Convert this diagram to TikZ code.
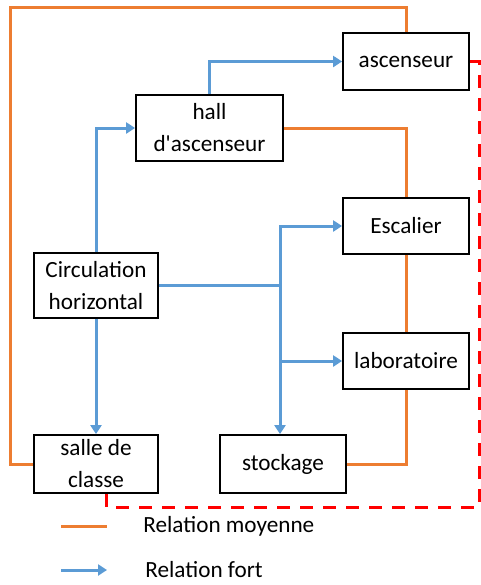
\documentclass[tikz,border=0pt]{standalone}
\usepackage{fontspec}
\setmainfont{Carlito}
\usepackage{tikz}
\usetikzlibrary{arrows.meta, positioning}

\definecolor{moyorange}{HTML}{ED7D31}
\definecolor{fortblue}{HTML}{5B9BD5}

\begin{document}
\begin{tikzpicture}[x=0.5pt, y=-0.5pt]
	\tikzstyle{room} = [rectangle, draw=black, line width=0.9pt, minimum width=63pt, 
	minimum height=28.5pt, inner sep=0pt, text centered, align=center, 
	font=\fontsize{11.6}{16}\selectfont]
	\tikzstyle{legend} = [anchor=west, inner sep=0pt, font=\fontsize{11.6}{16}\selectfont]
	\tikzstyle{moyenne} = [line width=1.5pt, draw=moyorange]
	\tikzstyle{fort} = [line width=1.5pt, draw=fortblue, ->, >={Triangle[length=4.5pt, width=5.5pt]}]
	\tikzstyle{faible} = [line width=1.5pt, draw=red, dash pattern=on 6.5pt off 5pt]
	\useasboundingbox (0,0) rectangle (481,585);
	\node (ascenseur) [room] at (406,61.5) {ascenseur};
	\node (hall) [room, minimum width=73.5pt, minimum height=33pt] at (209.5,128) {hall\\d\textquotesingle ascenseur};
	\node (escalier) [room, minimum height=28pt] at (406,226) {Escalier};
	\node (circulation) [room, minimum width=62pt, minimum height=32.5pt] at (96,285.5) {Circulation\\horizontal};
	\node (laboratoire) [room, minimum height=28pt] at (406,361) {laboratoire};
	\node (salle) [room, minimum width=62pt, minimum height=29pt] at (96,464) {salle de\\classe};
	\node (stockage) [room, minimum height=29pt] at (283,464) {stockage};
	\coordinate (topleft) at (10,7);
	\coordinate (split) at (280,285.5);
	\coordinate (redcorner) at (479,507);
	% relations moyennes
	\draw [moyenne] (salle.west) -| (topleft) -| (ascenseur.north);
	\draw [moyenne] (hall.east) -| (escalier.north);
	\draw [moyenne] (escalier.south) -- (laboratoire.north);
	\draw [moyenne] (laboratoire.south) |- (stockage.east);
	% relations fortes
	\draw [fort] (hall.north) |- (ascenseur.west);
	\draw [fort] (circulation.north) |- (hall.west);
	\draw [fort] (circulation.south) -- (salle.north);
	\draw [fort, -] (circulation.east) -- (split);
	\draw [fort] (split) |- (escalier.west);
	\draw [fort] (split) |- (laboratoire.west);
	\draw [fort] (split) -- (split |- stockage.north);
	% relation faible
	\draw [faible] (ascenseur.east) -| (redcorner) -| ([xshift=5pt]salle.south);
	% legende
	\coordinate (moyA) at (61,526);
	\coordinate (moyB) at (107,526);
	\coordinate (fortA) at (61,570);
	\coordinate (fortB) at (107,570);
	\node (legmoyenne) [legend] at (143,526) {Relation moyenne};
	\node (legfort) [legend] at (145,570) {Relation fort};
	\draw [moyenne] (moyA) -- (moyB);
	\draw [fort] (fortA) -- (fortB);
\end{tikzpicture}
\end{document}
